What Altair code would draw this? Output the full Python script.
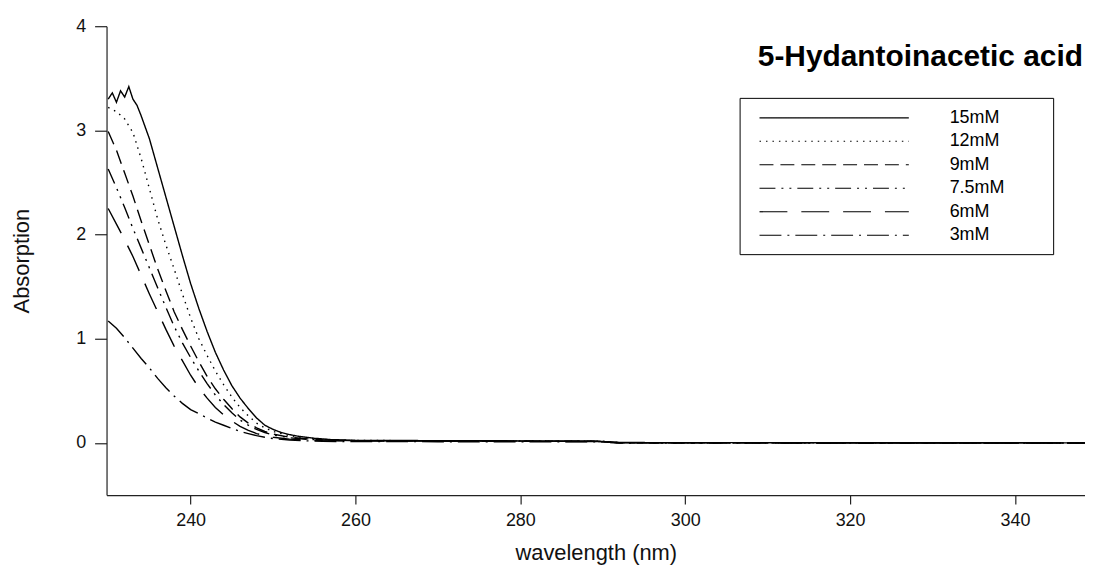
import altair as alt
import pandas as pd

chart_title = "5-Hydantoinacetic acid"
series = ["15mM", "12mM", "9mM", "7.5mM", "6mM", "3mM"]
dashes = [[1, 0], [1.5, 5], [14, 7], [16, 6, 2, 6, 2, 6], [28, 14], [22, 6, 2, 6]]
x_ticks = [240, 260, 280, 300, 320, 340]
y_ticks = [0, 1, 2, 3, 4]

wl_15 = [230, 230.5, 231, 231.5, 232, 232.5, 233, 233.5, 234, 235, 236, 237, 238, 239,
         240, 241, 242, 243, 244, 245, 246, 247, 248, 249, 250, 251, 252, 253, 255, 257,
         260, 270, 280, 289, 291, 300, 320, 348.5]
a_15 = [3.30, 3.36, 3.27, 3.38, 3.32, 3.42, 3.30, 3.24, 3.14, 2.92, 2.64, 2.36, 2.08, 1.80,
        1.53, 1.29, 1.07, 0.87, 0.70, 0.55, 0.43, 0.33, 0.24, 0.17, 0.13, 0.10, 0.08, 0.065,
        0.045, 0.032, 0.025, 0.022, 0.02, 0.018, 0.004, 0.003, 0.002, 0.001]

wl_grid = [230, 231, 232, 233, 234, 235, 236, 237, 238, 239, 240, 241, 242, 243, 244, 245,
           246, 247, 248, 249, 250, 252, 254, 256, 258, 260, 270, 280, 290, 292, 300, 320, 348.5]
a_12 = [3.22, 3.18, 3.11, 2.98, 2.73, 2.44, 2.15, 1.90, 1.67, 1.43, 1.20, 1.00, 0.84, 0.69,
        0.56, 0.44, 0.34, 0.26, 0.19, 0.145, 0.11, 0.07, 0.048, 0.035, 0.028, 0.024, 0.021,
        0.019, 0.016, 0.003, 0.002, 0.001, 0.0]
a_9 = [2.99, 2.81, 2.59, 2.37, 2.13, 1.90, 1.67, 1.46, 1.26, 1.09, 0.93, 0.78, 0.64, 0.52,
       0.42, 0.33, 0.25, 0.19, 0.145, 0.11, 0.085, 0.055, 0.04, 0.03, 0.025, 0.022, 0.02,
       0.018, 0.015, 0.002, 0.001, 0.0, 0.0]
a_75 = [2.63, 2.45, 2.26, 2.06, 1.87, 1.68, 1.49, 1.30, 1.12, 0.96, 0.82, 0.69, 0.57, 0.46,
        0.37, 0.29, 0.22, 0.17, 0.13, 0.10, 0.077, 0.05, 0.036, 0.028, 0.024, 0.021, 0.019,
        0.017, 0.014, 0.003, 0.002, 0.001, 0.0]
a_6 = [2.25, 2.10, 1.95, 1.79, 1.61, 1.43, 1.26, 1.09, 0.93, 0.79, 0.65, 0.53, 0.43, 0.34,
       0.27, 0.21, 0.16, 0.12, 0.09, 0.07, 0.055, 0.037, 0.028, 0.022, 0.02, 0.018, 0.017,
       0.016, 0.013, 0.002, 0.001, 0.0, 0.0]
a_3 = [1.17, 1.10, 1.01, 0.91, 0.81, 0.72, 0.62, 0.53, 0.45, 0.38, 0.32, 0.28, 0.24, 0.20,
       0.17, 0.14, 0.11, 0.09, 0.07, 0.055, 0.042, 0.028, 0.02, 0.016, 0.014, 0.013, 0.012,
       0.012, 0.01, 0.0, 0.0, 0.0, 0.0]

rows = []
for name, wl, ab in [("15mM", wl_15, a_15), ("12mM", wl_grid, a_12), ("9mM", wl_grid, a_9),
                     ("7.5mM", wl_grid, a_75), ("6mM", wl_grid, a_6), ("3mM", wl_grid, a_3)]:
    for w, a in zip(wl, ab):
        rows.append({"wavelength": w, "absorption": a, "series": name})
df = pd.DataFrame(rows)

W, H = 983, 471
FONT = "Liberation Sans"

lines = alt.Chart(df).mark_line(color="black", strokeWidth=1.4, clip=True).encode(
    x=alt.X("wavelength:Q",
            scale=alt.Scale(domain=[229.8, 348.5], nice=False, zero=False),
            axis=alt.Axis(values=x_ticks, title="wavelength (nm)", tickSize=9,
                          labelPadding=8, titlePadding=13, titleFontSize=22)),
    y=alt.Y("absorption:Q",
            scale=alt.Scale(domain=[-0.5, 4], nice=False, zero=False),
            axis=alt.Axis(values=y_ticks, title="Absorption", tickSize=12,
                          labelPadding=9, titlePadding=42, titleFontSize=22)),
    strokeDash=alt.StrokeDash(
        "series:N",
        scale=alt.Scale(domain=series, range=dashes),
        legend=alt.Legend(title="\u2800\u2800\u2800", titleOrient="right",
                          titleFontSize=18, titlePadding=0, titleColor="white",
                          orient="none", legendX=636, legendY=72,
                          strokeColor="black", fillColor="white", padding=10,
                          symbolType="M0,0L16.667,0", symbolSize=324,
                          symbolStrokeWidth=1.2, symbolStrokeColor="black",
                          labelFontSize=18, labelFont=FONT, labelColor="black",
                          labelOffset=181, rowPadding=4.6),
    ),
)

title = alt.Chart(pd.DataFrame({"t": [chart_title]})).mark_text(
    align="right", baseline="alphabetic", fontSize=30, fontWeight="bold",
    font=FONT, color="black"
).encode(x=alt.value(W - 2), y=alt.value(40), text="t:N")

chart = alt.layer(lines, title).properties(
    width=W, height=H,
    padding={"left": 2, "top": 8, "right": 0, "bottom": 0},
).configure_view(stroke=None).configure_axis(
    grid=False, domainColor="#222", tickColor="#222", domainWidth=1.2, tickWidth=1.2,
    labelFont=FONT, titleFont=FONT, labelFontSize=18, titleFontSize=20,
    labelColor="#111", titleColor="#111", titleFontWeight="normal",
)

chart.save("out.html", embed_options={"renderer": "svg", "actions": False})
